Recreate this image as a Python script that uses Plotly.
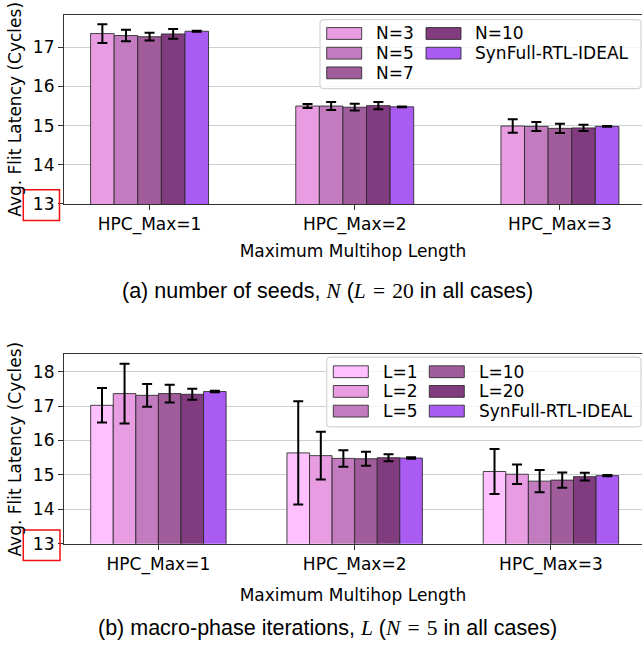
import plotly.graph_objects as go

# ---------------- data ----------------
categories = ["HPC_Max=1", "HPC_Max=2", "HPC_Max=3"]

# (a) number of seeds N (L = 20)
seed_labels = ["N=3", "N=5", "N=7", "N=10", "SynFull-RTL-IDEAL"]
seed_n3 = [17.35, 15.50, 14.99]
seed_n5 = [17.30, 15.50, 14.98]
seed_n7 = [17.27, 15.47, 14.93]
seed_n10 = [17.34, 15.51, 14.94]
seed_ideal = [17.41, 15.48, 14.98]
seed_n3_err = [0.24, 0.05, 0.17]
seed_n5_err = [0.145, 0.10, 0.115]
seed_n7_err = [0.10, 0.085, 0.12]
seed_n10_err = [0.125, 0.09, 0.08]
seed_ideal_err = [0.015, 0.01, 0.01]

# (b) macro-phase iterations L (N = 5)
iter_labels = ["L=1", "L=2", "L=5", "L=10", "L=20", "SynFull-RTL-IDEAL"]
iter_l1 = [17.02, 15.64, 15.10]
iter_l2 = [17.36, 15.56, 15.02]
iter_l5 = [17.31, 15.48, 14.82]
iter_l10 = [17.36, 15.47, 14.85]
iter_l20 = [17.34, 15.50, 14.95]
iter_ideal = [17.42, 15.49, 14.98]
iter_l1_err = [0.50, 1.50, 0.65]
iter_l2_err = [0.87, 0.69, 0.28]
iter_l5_err = [0.33, 0.24, 0.32]
iter_l10_err = [0.26, 0.20, 0.22]
iter_l20_err = [0.16, 0.10, 0.11]
iter_ideal_err = [0.02, 0.02, 0.02]

y_ticks = [13, 14, 15, 16, 17, 18]
MATH = "<span style=\"font-family:Liberation Serif\">{}</span>"
caption_a = ("(a) number of seeds, " + MATH.format("<i>N</i>") + " ("
             + MATH.format("<i>L</i>&#8196;=&#8196;20") + " in all cases)")
caption_b = ("(b) macro-phase iterations, " + MATH.format("<i>L</i>") + " ("
             + MATH.format("<i>N</i>&#8196;=&#8196;5") + " in all cases)")

# ---------------- styling ----------------
W, H = 642, 654
FONT = "DejaVu Sans"
C_L1 = "#FEC0FE"
C_A = "#E89CE2"
C_B = "#C27BBE"
C_C = "#A15C9C"
C_D = "#813B7F"
C_IDEAL = "#A95BF2"
EDGE = "rgba(40,40,40,0.85)"
GRID = "#c8d0d0"
AX = "#333333"

seed_colors = [C_A, C_B, C_C, C_D, C_IDEAL]
iter_colors = [C_L1, C_A, C_B, C_C, C_D, C_IDEAL]

seed_vals = [seed_n3, seed_n5, seed_n7, seed_n10, seed_ideal]
seed_errs = [seed_n3_err, seed_n5_err, seed_n7_err, seed_n10_err, seed_ideal_err]
iter_vals = [iter_l1, iter_l2, iter_l5, iter_l10, iter_l20, iter_ideal]
iter_errs = [iter_l1_err, iter_l2_err, iter_l5_err, iter_l10_err, iter_l20_err, iter_ideal_err]


def px(x):
    return x / W


def py(y):
    return (H - y) / H


BW = 0.115
fig = go.Figure()


def add_group(names, vals, errs, colors, xa, ya):
    n = len(names)
    for i, (nm, v, e, c) in enumerate(zip(names, vals, errs, colors)):
        fig.add_trace(go.Bar(
            x=categories, y=v, name=nm, xaxis=xa, yaxis=ya,
            width=BW, offset=-n * BW / 2 + i * BW,
            marker=dict(color=c, line=dict(color=EDGE, width=1)),
            error_y=dict(type="data", array=e, visible=True, color="black",
                         thickness=2, width=5),
            showlegend=False,
        ))


add_group(seed_labels, seed_vals, seed_errs, seed_colors, "x", "y")
add_group(iter_labels, iter_vals, iter_errs, iter_colors, "x2", "y2")


def xaxis_cfg(anchor, rng, standoff):
    return dict(
        anchor=anchor, domain=[px(64), 1], type="category", range=rng,
        showline=True, linecolor=AX, linewidth=1.2, mirror=True,
        ticks="outside", ticklen=5, tickwidth=1.2, tickcolor=AX,
        tickfont=dict(family=FONT, size=17, color="black"),
        showgrid=False, zeroline=False,
        title=dict(text="Maximum Multihop Length",
                   font=dict(family=FONT, size=17, color="black"), standoff=standoff),
    )


def yaxis_cfg(anchor, dom, rng, ticks):
    return dict(
        anchor=anchor, domain=dom, range=rng, tickvals=ticks,
        showline=True, linecolor=AX, linewidth=1.2, mirror=False,
        ticks="outside", ticklen=5, tickwidth=1.2, tickcolor=AX,
        tickfont=dict(family=FONT, size=17, color="black"),
        showgrid=True, gridcolor=GRID, gridwidth=1, zeroline=False,
        title=dict(text="Avg. Flit Latency (Cycles)",
                   font=dict(family=FONT, size=17, color="black"), standoff=6),
    )


shapes = []
annotations = []


def rounded_box(x0, y0, x1, y1, r=4):
    rx, ry = r / W, r / H
    X0, X1 = px(x0), px(x1)
    Y0, Y1 = py(y0), py(y1)  # Y0 top, Y1 bottom
    path = (f"M{X0+rx},{Y0} L{X1-rx},{Y0} Q{X1},{Y0} {X1},{Y0-ry} "
            f"L{X1},{Y1+ry} Q{X1},{Y1} {X1-rx},{Y1} L{X0+rx},{Y1} "
            f"Q{X0},{Y1} {X0},{Y1+ry} L{X0},{Y0-ry} Q{X0},{Y0} {X0+rx},{Y0} Z")
    return dict(type="path", xref="paper", yref="paper", path=path,
                fillcolor="rgba(255,255,255,0.8)",
                line=dict(color="#d4d4d4", width=1.2), layer="above")


def add_legend(names, colors, box, sw_x, rows, txt_x):
    shapes.append(rounded_box(*box))
    for i, (nm, c) in enumerate(zip(names, colors)):
        col, row = i // 3, i % 3
        yc = rows[row]
        shapes.append(dict(type="rect", xref="paper", yref="paper",
                           x0=px(sw_x[col]), x1=px(sw_x[col] + 35),
                           y0=py(yc + 6), y1=py(yc - 6),
                           fillcolor=c, line=dict(color=EDGE, width=1), layer="above"))
        annotations.append(dict(xref="paper", yref="paper", x=px(txt_x[col]), y=py(yc),
                                xanchor="left", yanchor="middle", showarrow=False,
                                text=nm, font=dict(family=FONT, size=17, color="black")))


add_legend(seed_labels, seed_colors, (320, 20, 641, 90), [326.7, 426], [34, 54, 74], [374, 473])
add_legend(iter_labels, iter_colors, (326.7, 362.7, 641, 433.5), [333.3, 429.3],
           [377.5, 397.5, 417.5], [381, 477])

# red highlight boxes around the "13" tick labels
for (x0, y0, x1, y1) in [(23.3, 192.7, 59.5, 224), (23.3, 538.3, 60, 569.3)]:
    shapes.append(dict(type="rect", xref="paper", yref="paper",
                       x0=px(x0), x1=px(x1), y0=py(y1), y1=py(y0),
                       line=dict(color="#f01010", width=1.5), fillcolor="rgba(0,0,0,0)",
                       layer="above"))

for txt, yc in [(caption_a, 295.5), (caption_b, 638)]:
    annotations.append(dict(xref="paper", yref="paper", x=px(328), y=py(yc),
                            xanchor="center", yanchor="middle", showarrow=False,
                            text=txt, font=dict(family="Liberation Sans", size=21.5, color="black")))

fig.update_layout(
    width=W, height=H,
    margin=dict(l=0, r=0, t=0, b=0),
    paper_bgcolor="white", plot_bgcolor="white",
    barmode="overlay",
    xaxis=xaxis_cfg("y", [-0.417, 2.40], 10),
    yaxis=yaxis_cfg("x", [py(207.1), py(15)], [13, 17.83], y_ticks[:5]),
    xaxis2=xaxis_cfg("y2", [-0.481, 2.464], 14),
    yaxis2=yaxis_cfg("x2", [py(552.3), py(360)], [13, 18.495], y_ticks),
    shapes=shapes,
    annotations=annotations,
    showlegend=False,
)

fig.write_html("out.html", config={"displayModeBar": False},
               post_script="document.body.style.margin='0';document.body.style.overflow='hidden';")
